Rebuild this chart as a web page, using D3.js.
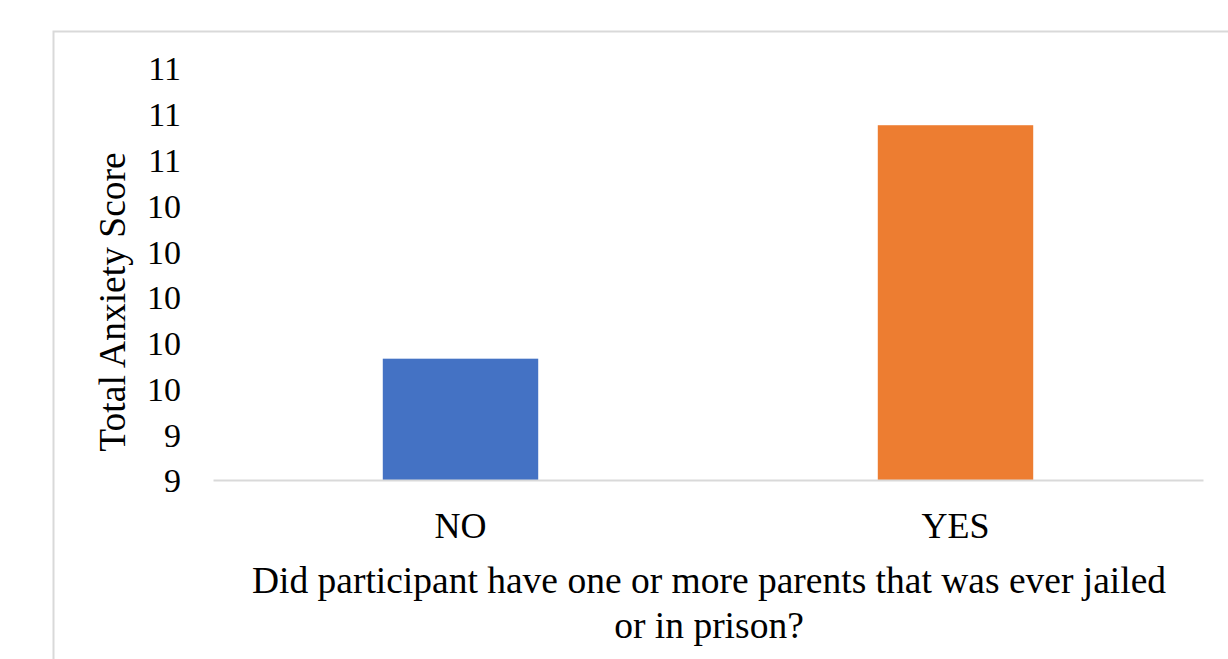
<!DOCTYPE html>
<html>
<head>
<meta charset="utf-8">
<script src="https://cdn.jsdelivr.net/npm/d3@7"></script>
<style>
  html, body { margin: 0; padding: 0; background: #fff; }
  svg text { font-family: "Liberation Serif", "Times New Roman", serif; fill: #000; }
</style>
</head>
<body>
<svg id="chart" width="1228" height="659"></svg>
<script>
// data
let categories = ['NO', 'YES']
let scores = [9.73, 10.75]
let barColors = ['#4472c4', '#ed7d31']
let yTicks = [9.2, 9.4, 9.6, 9.8, 10.0, 10.2, 10.4, 10.6, 10.8, 11.0]
let yTitle = 'Total Anxiety Score'
let xTitle = ['Did participant have one or more parents that was ever jailed', 'or in prison?']

let svg = d3.select('#chart')

// chart frame (runs off the right and bottom edge)
svg.append('rect')
    .attr('x', 53.5).attr('y', 31.5)
    .attr('width', 1300).attr('height', 700)
    .attr('fill', '#fff')
    .attr('stroke', '#d9d9d9').attr('stroke-width', 2)

let plot = { left: 213, right: 1203, top: 68, bottom: 480 }

let x = d3.scaleBand()
    .domain(categories)
    .range([plot.left, plot.right])
    .paddingInner(0.686)
    .paddingOuter(0.343)

let y = d3.scaleLinear()
    .domain([9.2, 11.0])
    .range([plot.bottom, plot.top])

/* ----- bars ----- */
svg.append('g').selectAll('rect')
    .data(categories)
    .enter().append('rect')
    .attr('x', d => x(d))
    .attr('y', (d, i) => y(scores[i]))
    .attr('width', x.bandwidth())
    .attr('height', (d, i) => plot.bottom - y(scores[i]))
    .attr('fill', (d, i) => barColors[i])

/* ----- y axis (labels only, rounded like the original) ----- */
let yAxis = svg.append('g')
    .attr('transform', 'translate(' + (plot.left - 32) + ',0)')
    .call(d3.axisLeft(y).tickValues(yTicks).tickSize(0).tickFormat(d3.format('.0f')))
yAxis.select('.domain').remove()
yAxis.selectAll('text')
    .attr('x', 0).attr('dy', '0.35em')
    .style('font-size', '34px')

/* ----- x axis ----- */
let xAxis = svg.append('g')
    .attr('transform', 'translate(0,' + plot.bottom + ')')
    .call(d3.axisBottom(x).tickSize(0))
xAxis.select('.domain')
    .attr('stroke', '#d9d9d9').attr('stroke-width', 2)
xAxis.selectAll('text')
    .attr('y', 45).attr('dy', '0.35em')
    .style('font-size', '36px')

/* ----- titles ----- */
svg.append('text')
    .attr('transform', 'translate(112,302) rotate(-90)')
    .attr('text-anchor', 'middle')
    .attr('dy', '0.35em')
    .style('font-size', '37.5px')
    .text(yTitle)

svg.append('g').selectAll('text')
    .data(xTitle)
    .enter().append('text')
    .attr('x', 709)
    .attr('y', (d, i) => 580 + i * 45)
    .attr('text-anchor', 'middle')
    .attr('dy', '0.35em')
    .style('font-size', '37.5px')
    .text(d => d)
</script>
</body>
</html>
